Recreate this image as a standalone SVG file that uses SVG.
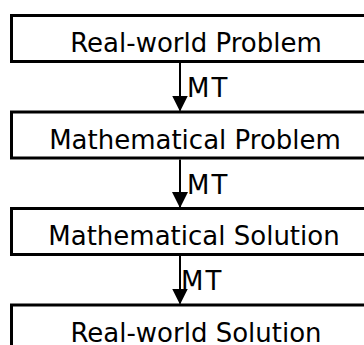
<svg xmlns="http://www.w3.org/2000/svg" width="364" height="345" viewBox="0 0 364 345">
<style>
.box{fill:#fff;stroke:#000;stroke-width:3}
.lbl{font-family:"DejaVu Sans",sans-serif;font-size:26px;fill:#000;text-anchor:middle}
.mt{font-family:"DejaVu Sans",sans-serif;font-size:26px;fill:#000;letter-spacing:2px}
.conn{stroke:#000;stroke-width:2;fill:none}
</style>
<defs>
<marker id="ah" markerUnits="userSpaceOnUse" markerWidth="16" markerHeight="16" refX="15" refY="8" orient="auto" viewBox="0 0 16 16">
<path d="M0,0 L16,8 L0,16 z" fill="#000"/>
</marker>
</defs>
<g id="n1"><rect class="box" x="11.5" y="15.5" width="370" height="46"/><text class="lbl" x="196" y="52">Real-world Problem</text></g>
<g id="n2"><rect class="box" x="11.5" y="112" width="370" height="46"/><text class="lbl" x="195" y="148.5">Mathematical Problem</text></g>
<g id="n3"><rect class="box" x="11.5" y="208.5" width="370" height="46"/><text class="lbl" x="194" y="245">Mathematical Solution</text></g>
<g id="n4"><rect class="box" x="11.5" y="305" width="370" height="46"/><text class="lbl" x="196" y="341.5">Real-world Solution</text></g>
<g id="connectors">
<line class="conn" x1="180" y1="63" x2="180" y2="110.5" marker-end="url(#ah)"/>
<line class="conn" x1="180" y1="159.5" x2="180" y2="207" marker-end="url(#ah)"/>
<line class="conn" x1="180" y1="256" x2="180" y2="303.5" marker-end="url(#ah)"/>
<text class="mt" x="187" y="97">MT</text>
<text class="mt" x="187" y="193.5">MT</text>
<text class="mt" x="181" y="290">MT</text>
</g>
</svg>
